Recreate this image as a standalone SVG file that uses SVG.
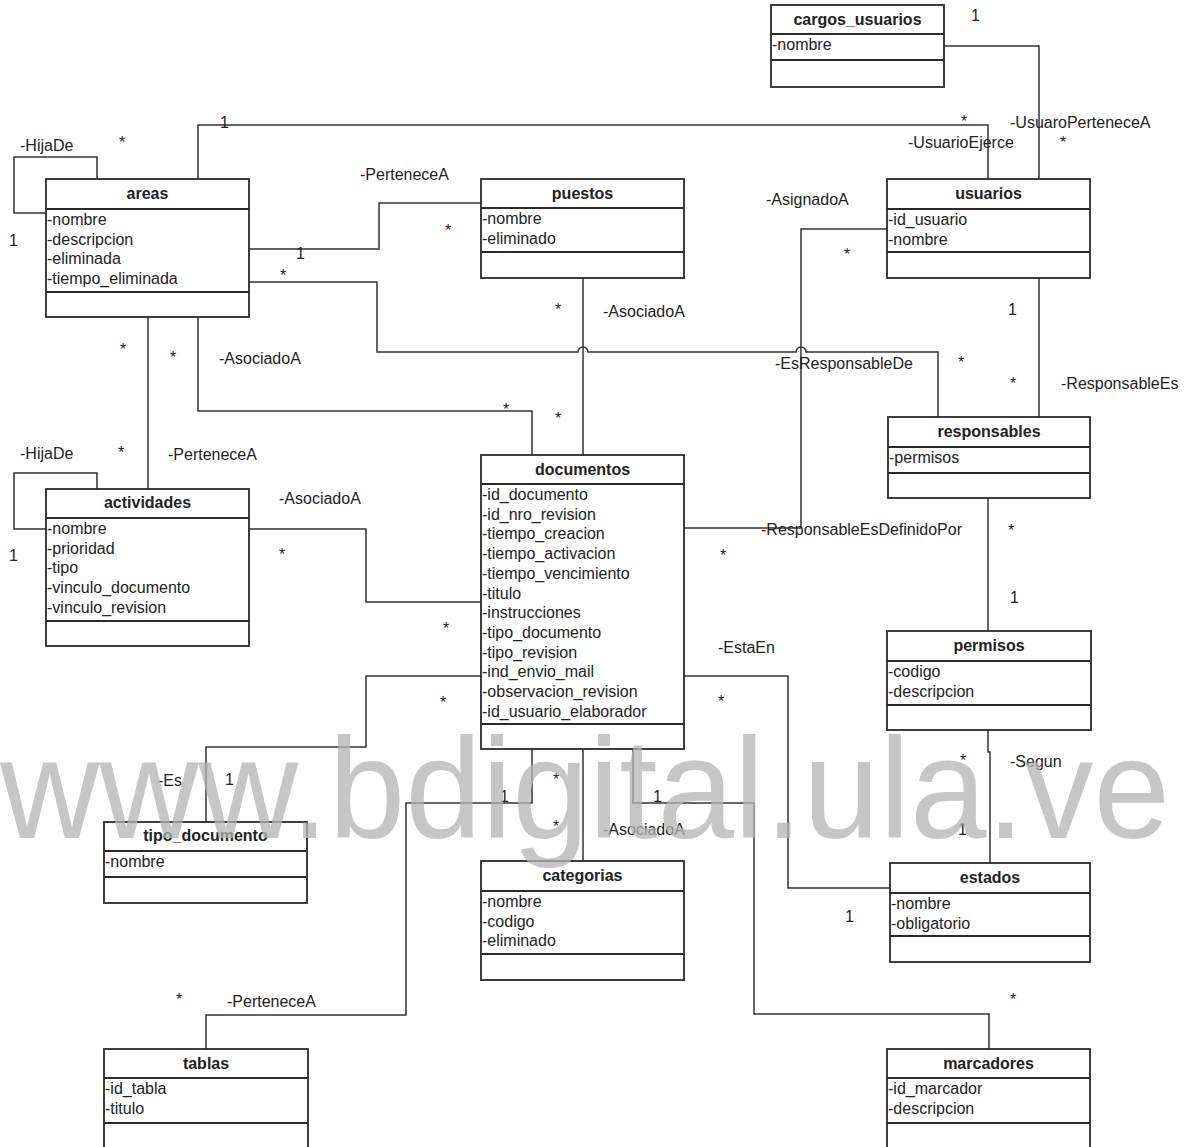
<svg xmlns="http://www.w3.org/2000/svg" width="1194" height="1147" viewBox="0 0 1194 1147">
  <style>
    text { font-family: "Liberation Sans", Arial, sans-serif; font-size: 16px; fill: #222; }
    .title { font-weight: bold; text-anchor: middle; }
    .box { fill: #fff; stroke: #2a2a2a; stroke-width: 1.8; }
    .sep { stroke: #2a2a2a; stroke-width: 1.8; }
    .conn path { fill: none; stroke: #333; stroke-width: 1.5; }
    .wm { font-size: 143px; fill: #b4b4b4; opacity: 0.75; }
  </style>

  <!-- associations -->
  <g id="connectors" class="conn">
    <path d="M97,179 V157 H14 V213 H46"/>
    <path d="M198,179 V125 H988 V179"/>
    <path d="M944,46 H1039 V179"/>
    <path d="M249,249 H379 V203 H481"/>
    <path d="M249,282 H377 V352 H578 A5,5 0 0 1 588,352 H796 A5,5 0 0 1 806,352 H938 V417"/>
    <path d="M583,278 V455"/>
    <path d="M198,317 V411 H532 V455"/>
    <path d="M148,317 V489"/>
    <path d="M97,489 V473 H14 V529 H46"/>
    <path d="M249,529 H366 V602 H481"/>
    <path d="M684,528 H801 V229 H887"/>
    <path d="M1039,278 V417"/>
    <path d="M988,498 V631"/>
    <path d="M988,730 V752 H990 V863"/>
    <path d="M684,676 H788 V888 H890"/>
    <path d="M481,676 H366 V747 H206 V822"/>
    <path d="M532,749 V803 H406 V1015 H206 V1049"/>
    <path d="M583,749 V861"/>
    <path d="M633,749 V803 H754 V1014 H989 V1049"/>
  </g>

  <!-- association labels and multiplicities -->
  <g id="labels">
    <text x="20" y="151">-HijaDe</text>
    <text x="119" y="148">*</text>
    <text x="9" y="246">1</text>
    <text x="220" y="128">1</text>
    <text x="961" y="127">*</text>
    <text x="908" y="148">-UsuarioEjerce</text>
    <text x="971" y="21">1</text>
    <text x="1010" y="128">-UsuaroPerteneceA</text>
    <text x="1060" y="148">*</text>
    <text x="360" y="180">-PerteneceA</text>
    <text x="296" y="259">1</text>
    <text x="445" y="236">*</text>
    <text x="280" y="281">*</text>
    <text x="766" y="205">-AsignadoA</text>
    <text x="844" y="260">*</text>
    <text x="1008" y="315">1</text>
    <text x="555" y="315">*</text>
    <text x="603" y="317">-AsociadoA</text>
    <text x="120" y="355">*</text>
    <text x="170" y="363">*</text>
    <text x="219" y="364">-AsociadoA</text>
    <text x="775" y="369">-EsResponsableDe</text>
    <text x="958" y="368">*</text>
    <text x="1010" y="389">*</text>
    <text x="1061" y="389">-ResponsableEs</text>
    <text x="503" y="415">*</text>
    <text x="555" y="424">*</text>
    <text x="20" y="459">-HijaDe</text>
    <text x="118" y="458">*</text>
    <text x="168" y="460">-PerteneceA</text>
    <text x="279" y="504">-AsociadoA</text>
    <text x="761" y="535">-ResponsableEsDefinidoPor</text>
    <text x="1008" y="536">*</text>
    <text x="9" y="561">1</text>
    <text x="279" y="560">*</text>
    <text x="720" y="561">*</text>
    <text x="1010" y="603">1</text>
    <text x="443" y="634">*</text>
    <text x="718" y="653">-EstaEn</text>
    <text x="440" y="708">*</text>
    <text x="718" y="707">*</text>
    <text x="158" y="786">-Es</text>
    <text x="225" y="785">1</text>
    <text x="960" y="766">*</text>
    <text x="1010" y="767">-Segun</text>
    <text x="553" y="785">*</text>
    <text x="500" y="802">1</text>
    <text x="653" y="802">1</text>
    <text x="553" y="832">*</text>
    <text x="603" y="835">-AsociadoA</text>
    <text x="958" y="835">1</text>
    <text x="845" y="922">1</text>
    <text x="176" y="1005">*</text>
    <text x="227" y="1007">-PerteneceA</text>
    <text x="1010" y="1005">*</text>
  </g>

  <!-- classes -->
  <g id="cargos_usuarios">
    <rect class="box" x="771" y="5" width="173" height="82"/>
    <line class="sep" x1="771" y1="34" x2="944" y2="34"/>
    <line class="sep" x1="771" y1="60" x2="944" y2="60"/>
    <text class="title" x="857.5" y="24.5">cargos_usuarios</text>
    <text x="772" y="50">-nombre</text>
  </g>

  <g id="usuarios">
    <rect class="box" x="887" y="179" width="203" height="99"/>
    <line class="sep" x1="887" y1="209" x2="1090" y2="209"/>
    <line class="sep" x1="887" y1="252" x2="1090" y2="252"/>
    <text class="title" x="988.5" y="198.5">usuarios</text>
    <text x="888" y="225">-id_usuario</text>
    <text x="888" y="244.7">-nombre</text>
  </g>

  <g id="areas">
    <rect class="box" x="46" y="179" width="203" height="138"/>
    <line class="sep" x1="46" y1="209" x2="249" y2="209"/>
    <line class="sep" x1="46" y1="292" x2="249" y2="292"/>
    <text class="title" x="147.5" y="198.5">areas</text>
    <text x="47" y="225">-nombre</text>
    <text x="47" y="244.7">-descripcion</text>
    <text x="47" y="264.4">-eliminada</text>
    <text x="47" y="284.1">-tiempo_eliminada</text>
  </g>

  <g id="puestos">
    <rect class="box" x="481" y="179" width="203" height="99"/>
    <line class="sep" x1="481" y1="208" x2="684" y2="208"/>
    <line class="sep" x1="481" y1="252" x2="684" y2="252"/>
    <text class="title" x="582.5" y="198.5">puestos</text>
    <text x="482" y="224">-nombre</text>
    <text x="482" y="243.7">-eliminado</text>
  </g>

  <g id="responsables">
    <rect class="box" x="888" y="417" width="202" height="81"/>
    <line class="sep" x1="888" y1="447" x2="1090" y2="447"/>
    <line class="sep" x1="888" y1="473" x2="1090" y2="473"/>
    <text class="title" x="989" y="436.5">responsables</text>
    <text x="889" y="463">-permisos</text>
  </g>

  <g id="actividades">
    <rect class="box" x="46" y="489" width="203" height="157"/>
    <line class="sep" x1="46" y1="518" x2="249" y2="518"/>
    <line class="sep" x1="46" y1="621" x2="249" y2="621"/>
    <text class="title" x="147.5" y="508">actividades</text>
    <text x="47" y="534">-nombre</text>
    <text x="47" y="553.7">-prioridad</text>
    <text x="47" y="573.4">-tipo</text>
    <text x="47" y="593.1">-vinculo_documento</text>
    <text x="47" y="612.8">-vinculo_revision</text>
  </g>

  <g id="documentos">
    <rect class="box" x="481" y="455" width="203" height="294"/>
    <line class="sep" x1="481" y1="484" x2="684" y2="484"/>
    <line class="sep" x1="481" y1="724" x2="684" y2="724"/>
    <text class="title" x="582.5" y="474.5">documentos</text>
    <text x="482" y="500">-id_documento</text>
    <text x="482" y="519.7">-id_nro_revision</text>
    <text x="482" y="539.4">-tiempo_creacion</text>
    <text x="482" y="559.1">-tiempo_activacion</text>
    <text x="482" y="578.8">-tiempo_vencimiento</text>
    <text x="482" y="598.5">-titulo</text>
    <text x="482" y="618.2">-instrucciones</text>
    <text x="482" y="637.9">-tipo_documento</text>
    <text x="482" y="657.6">-tipo_revision</text>
    <text x="482" y="677.3">-ind_envio_mail</text>
    <text x="482" y="697">-observacion_revision</text>
    <text x="482" y="716.7">-id_usuario_elaborador</text>
  </g>

  <g id="permisos">
    <rect class="box" x="887" y="631" width="204" height="99"/>
    <line class="sep" x1="887" y1="661" x2="1091" y2="661"/>
    <line class="sep" x1="887" y1="705" x2="1091" y2="705"/>
    <text class="title" x="989" y="650.5">permisos</text>
    <text x="888" y="677">-codigo</text>
    <text x="888" y="696.7">-descripcion</text>
  </g>

  <g id="tipo_documento">
    <rect class="box" x="104" y="822" width="203" height="81"/>
    <line class="sep" x1="104" y1="851" x2="307" y2="851"/>
    <line class="sep" x1="104" y1="877" x2="307" y2="877"/>
    <text class="title" x="205.5" y="841">tipo_documento</text>
    <text x="105" y="867">-nombre</text>
  </g>

  <g id="categorias">
    <rect class="box" x="481" y="861" width="203" height="119"/>
    <line class="sep" x1="481" y1="891" x2="684" y2="891"/>
    <line class="sep" x1="481" y1="954" x2="684" y2="954"/>
    <text class="title" x="582.5" y="880.5">categorias</text>
    <text x="482" y="907">-nombre</text>
    <text x="482" y="926.7">-codigo</text>
    <text x="482" y="946.4">-eliminado</text>
  </g>

  <g id="estados">
    <rect class="box" x="890" y="863" width="200" height="99"/>
    <line class="sep" x1="890" y1="893" x2="1090" y2="893"/>
    <line class="sep" x1="890" y1="936" x2="1090" y2="936"/>
    <text class="title" x="990" y="882.5">estados</text>
    <text x="891" y="909">-nombre</text>
    <text x="891" y="928.7">-obligatorio</text>
  </g>

  <g id="tablas">
    <rect class="box" x="104" y="1049" width="204" height="100"/>
    <line class="sep" x1="104" y1="1078" x2="308" y2="1078"/>
    <line class="sep" x1="104" y1="1123" x2="308" y2="1123"/>
    <text class="title" x="206" y="1068.5">tablas</text>
    <text x="105" y="1094">-id_tabla</text>
    <text x="105" y="1113.7">-titulo</text>
  </g>

  <g id="marcadores">
    <rect class="box" x="887" y="1049" width="203" height="100"/>
    <line class="sep" x1="887" y1="1078" x2="1090" y2="1078"/>
    <line class="sep" x1="887" y1="1123" x2="1090" y2="1123"/>
    <text class="title" x="988.5" y="1068.5">marcadores</text>
    <text x="888" y="1094">-id_marcador</text>
    <text x="888" y="1113.7">-descripcion</text>
  </g>

  <!-- site watermark across the page -->
  <text class="wm" x="0" y="838" textLength="1170" lengthAdjust="spacingAndGlyphs">www.bdigital.ula.ve</text>
</svg>
